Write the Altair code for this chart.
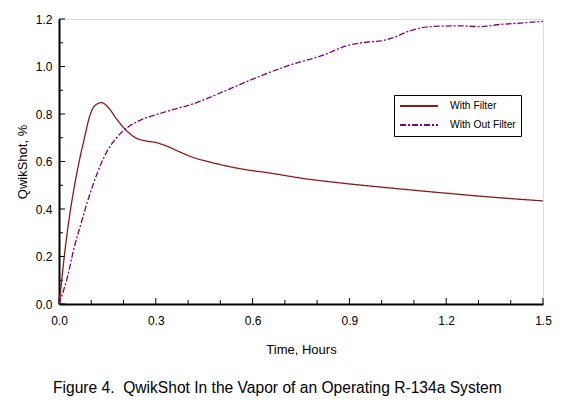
import altair as alt
import pandas as pd

# ---- data ----
t_filter = [0.0, 0.005, 0.016, 0.032, 0.047, 0.063, 0.079, 0.095, 0.11, 0.132, 0.153, 0.179,
            0.205, 0.237, 0.268, 0.3, 0.332, 0.37, 0.41, 0.47, 0.56, 0.66, 0.76, 0.87, 1.03,
            1.18, 1.34, 1.5]
v_filter = [0.0, 0.056, 0.196, 0.365, 0.49, 0.603, 0.70, 0.79, 0.834, 0.848, 0.827, 0.778,
            0.736, 0.70, 0.687, 0.68, 0.666, 0.643, 0.62, 0.597, 0.57, 0.55, 0.528, 0.51, 0.488,
            0.469, 0.45, 0.434]

t_nofilter = [0.0, 0.005, 0.026, 0.047, 0.068, 0.089, 0.11, 0.132, 0.153, 0.179, 0.205, 0.237,
              0.268, 0.3, 0.332, 0.37, 0.406, 0.44, 0.509, 0.613, 0.716, 0.819, 0.891, 0.964,
              1.0, 1.036, 1.088, 1.15, 1.243, 1.305, 1.367, 1.43, 1.5]
v_nofilter = [0.0, 0.02, 0.112, 0.238, 0.337, 0.435, 0.519, 0.596, 0.652, 0.701, 0.736, 0.764,
              0.783, 0.797, 0.81, 0.825, 0.838, 0.855, 0.894, 0.954, 1.006, 1.048, 1.087, 1.104,
              1.108, 1.122, 1.15, 1.168, 1.171, 1.168, 1.177, 1.183, 1.19]

series_names = ["With Filter", "With Out Filter"]
x_major = [0.0, 0.3, 0.6, 0.9, 1.2, 1.5]
x_minor = [0.1, 0.2, 0.4, 0.5, 0.7, 0.8, 1.0, 1.1, 1.3, 1.4]
y_major = [0.0, 0.2, 0.4, 0.6, 0.8, 1.0, 1.2]
y_minor = [0.1, 0.3, 0.5, 0.7, 0.9, 1.1]
x_title = "Time, Hours"
y_title = "QwikShot, %"
caption = "Figure 4.\u00a0 QwikShot In the Vapor of an Operating R-134a System"

W, H = 484, 285
FONT = "Liberation Sans"

lines_df = pd.concat([
    pd.DataFrame({"t": t_filter, "v": v_filter, "series": series_names[0]}),
    pd.DataFrame({"t": t_nofilter, "v": v_nofilter, "series": series_names[1]}),
])

xscale = alt.Scale(domain=[0, 1.5], nice=False, zero=False)
yscale = alt.Scale(domain=[0, 1.2], nice=False, zero=False)

xaxis = alt.Axis(values=x_major, format=".1f", title=x_title, ticks=False, grid=False,
                 domain=True, domainColor="black", domainWidth=2, labelFlush=False,
                 labelFont=FONT, labelFontSize=12, labelColor="black", labelPadding=11,
                 titleFont=FONT, titleFontSize=13, titleFontWeight="normal", titleColor="black",
                 titlePadding=17)
yaxis = alt.Axis(values=y_major, format=".1f", title=y_title, ticks=False, grid=False,
                 domain=True, domainColor="black", domainWidth=2, labelFlush=False,
                 labelFont=FONT, labelFontSize=12, labelColor="black", labelPadding=7,
                 titleFont=FONT, titleFontSize=13, titleFontWeight="normal", titleColor="black",
                 titlePadding=6)

X = alt.X("t:Q", scale=xscale, axis=xaxis)
Y = alt.Y("v:Q", scale=yscale, axis=yaxis)

def make_legend():
    return alt.Legend(title=None, orient="none", legendX=335, legendY=76,
                      symbolType="stroke", symbolSize=1444, symbolStrokeWidth=2,
                      clipHeight=12, rowPadding=7,
                      labelFont=FONT, labelFontSize=10.3, labelColor="black",
                      labelOffset=11, strokeColor="black", padding=5,
                      fillColor="white")

lines = alt.Chart(lines_df).mark_line(strokeWidth=1.3, interpolate="monotone").encode(
    x=X, y=Y,
    color=alt.Color("series:N", scale=alt.Scale(domain=series_names, range=["#8B1A1A", "#800080"]),
                    legend=make_legend()),
    strokeDash=alt.StrokeDash("series:N", scale=alt.Scale(domain=series_names, range=[[1, 0], [6, 2, 2, 2]]),
                              legend=make_legend()),
)

xmaj = alt.Chart(pd.DataFrame({"t": x_major})).mark_rule(color="black", strokeWidth=1).encode(
    x=X, y=alt.value(H), y2=alt.value(H - 6))
xmin = alt.Chart(pd.DataFrame({"t": x_minor})).mark_rule(color="black", strokeWidth=1).encode(
    x=X, y=alt.value(H), y2=alt.value(H - 4))
ymaj = alt.Chart(pd.DataFrame({"v": y_major})).mark_rule(color="black", strokeWidth=1).encode(
    y=Y, x=alt.value(0), x2=alt.value(6))
ymin = alt.Chart(pd.DataFrame({"v": y_minor})).mark_rule(color="black", strokeWidth=1).encode(
    y=Y, x=alt.value(0), x2=alt.value(4))

cap = alt.Chart(pd.DataFrame({"c": [caption]})).mark_text(
    font=FONT, fontSize=15.6, color="black", align="left", baseline="middle").encode(
    text="c:N", x=alt.value(53 - 59), y=alt.value(369))

chart = alt.layer(xmin, xmaj, ymin, ymaj, lines, cap).properties(
    width=W, height=H,
    autosize=alt.AutoSizeParams(type="none"),
    padding={"left": 51, "top": 11, "right": 23, "bottom": 105},
).configure_view(stroke="black", strokeWidth=1.5).configure(background="white")

chart.save("out.html", embed_options={"renderer": "svg", "actions": False})
